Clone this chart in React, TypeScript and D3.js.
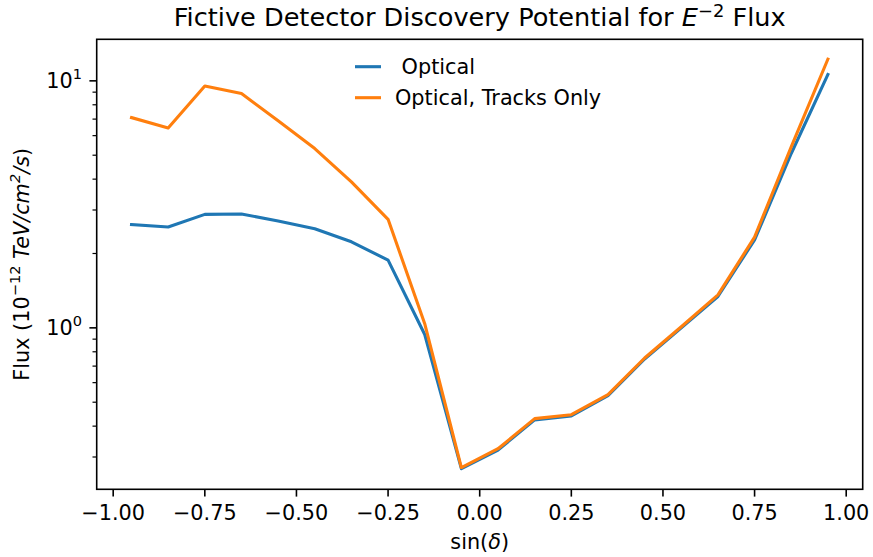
import React from 'react';
import * as d3 from 'd3';

const sinDec = [-0.95, -0.85, -0.75, -0.65, -0.55, -0.45, -0.35, -0.25, -0.15, -0.05,
  0.05, 0.15, 0.25, 0.35, 0.45, 0.55, 0.65, 0.75, 0.85, 0.95];
const optical = [2.62, 2.56, 2.88, 2.89, 2.71, 2.52, 2.23, 1.88, 0.94, 0.269,
  0.32, 0.424, 0.44, 0.532, 0.748, 1.0, 1.34, 2.27, 5.08, 10.6];
const tracksOnly = [7.1, 6.44, 9.53, 8.88, 6.89, 5.32, 3.9, 2.75, 1.04, 0.272,
  0.324, 0.429, 0.445, 0.537, 0.755, 1.01, 1.36, 2.33, 5.4, 12.24];
const xTicks = [-1, -0.75, -0.5, -0.25, 0, 0.25, 0.5, 0.75, 1];
const yMajor = [1, 10];
const yMinor = [0.3, 0.4, 0.5, 0.6, 0.7, 0.8, 0.9, 2, 3, 4, 5, 6, 7, 8, 9];

const W = 873, H = 557;
const left = 96.7, right = 862.7, top = 39.3, bottom = 489.3;
const font = 'DejaVu Sans, sans-serif';
const fs = 20.8;
const titleFs = 25.6;

const fmt = (v: number) => (v < 0 ? '\u2212' : '') + Math.abs(v).toFixed(2);

export default function App() {
  const x = d3.scaleLinear().domain([-1.045, 1.045]).range([left, right]);
  const y = d3.scaleLog().domain([0.222, 14.73]).range([bottom, top]);
  const line = d3.line<number>().x((d, i) => x(sinDec[i])).y(d => y(d));

  const series = [
    { name: ' Optical', values: optical, color: '#1f77b4' },
    { name: 'Optical, Tracks Only', values: tracksOnly, color: '#ff7f0e' },
  ];

  return (
    <svg width={W} height={H} style={{ position: 'absolute', left: 0, top: 0 }} fontFamily={font}>
      <rect width={W} height={H} fill="#fff" />
      <defs>
        <clipPath id="plot">
          <rect x={left} y={top} width={right - left} height={bottom - top} />
        </clipPath>
      </defs>

      <g clipPath="url(#plot)">
        {series.map(s => (
          <path key={s.name} d={line(s.values) || ''} fill="none" stroke={s.color}
            strokeWidth={3.1} strokeLinejoin="round" strokeLinecap="square" />
        ))}
      </g>

      <rect x={left} y={top} width={right - left} height={bottom - top}
        fill="none" stroke="#000" strokeWidth={1.6} />

      {/* x axis */}
      {xTicks.map(t => (
        <g key={t}>
          <line x1={x(t)} x2={x(t)} y1={bottom} y2={bottom + 7.3} stroke="#000" strokeWidth={1.6} />
          <text x={x(t)} y={519.5} fontSize={fs} textAnchor="middle">{fmt(t)}</text>
        </g>
      ))}
      <text x={(left + right) / 2} y={549} fontSize={fs} textAnchor="middle">
        sin(<tspan fontStyle="italic">δ</tspan>)
      </text>

      {/* y axis */}
      {yMinor.map(t => (
        <line key={t} x1={left - 4.2} x2={left} y1={y(t)} y2={y(t)} stroke="#000" strokeWidth={1.2} />
      ))}
      {yMajor.map(t => (
        <g key={t}>
          <line x1={left - 7.3} x2={left} y1={y(t)} y2={y(t)} stroke="#000" strokeWidth={1.6} />
          <text x={82} y={y(t) + 7.5} fontSize={fs} textAnchor="end">
            10<tspan fontSize={fs * 0.7} dy={-9}>{Math.round(Math.log10(t))}</tspan>
          </text>
        </g>
      ))}
      <text transform={`translate(29,${(top + bottom) / 2}) rotate(-90)`} fontSize={fs} textAnchor="middle">
        Flux (10<tspan fontSize={fs * 0.7} dy={-9}>{'\u221212'}</tspan>
        <tspan dy={9}> </tspan>
        <tspan fontStyle="italic">TeV/cm</tspan>
        <tspan fontSize={fs * 0.7} dy={-9} fontStyle="italic">2</tspan>
        <tspan dy={9} fontStyle="italic">/s</tspan>)
      </text>

      {/* title */}
      <text x={(left + right) / 2} y={26} fontSize={titleFs} textAnchor="middle">
        Fictive Detector Discovery Potential for <tspan fontStyle="italic">E</tspan>
        <tspan fontSize={titleFs * 0.7} dy={-9}>{'\u22122'}</tspan>
        <tspan dy={9}> Flux</tspan>
      </text>

      {/* legend */}
      {series.map((s, i) => (
        <g key={s.name} transform={`translate(0,${66.7 + i * 31})`}>
          <line x1={355} x2={381} y1={0} y2={0} stroke={s.color} strokeWidth={3.1} />
          <text x={395} y={7.5} fontSize={fs} style={{ whiteSpace: 'pre' }}>{s.name}</text>
        </g>
      ))}
    </svg>
  );
}
